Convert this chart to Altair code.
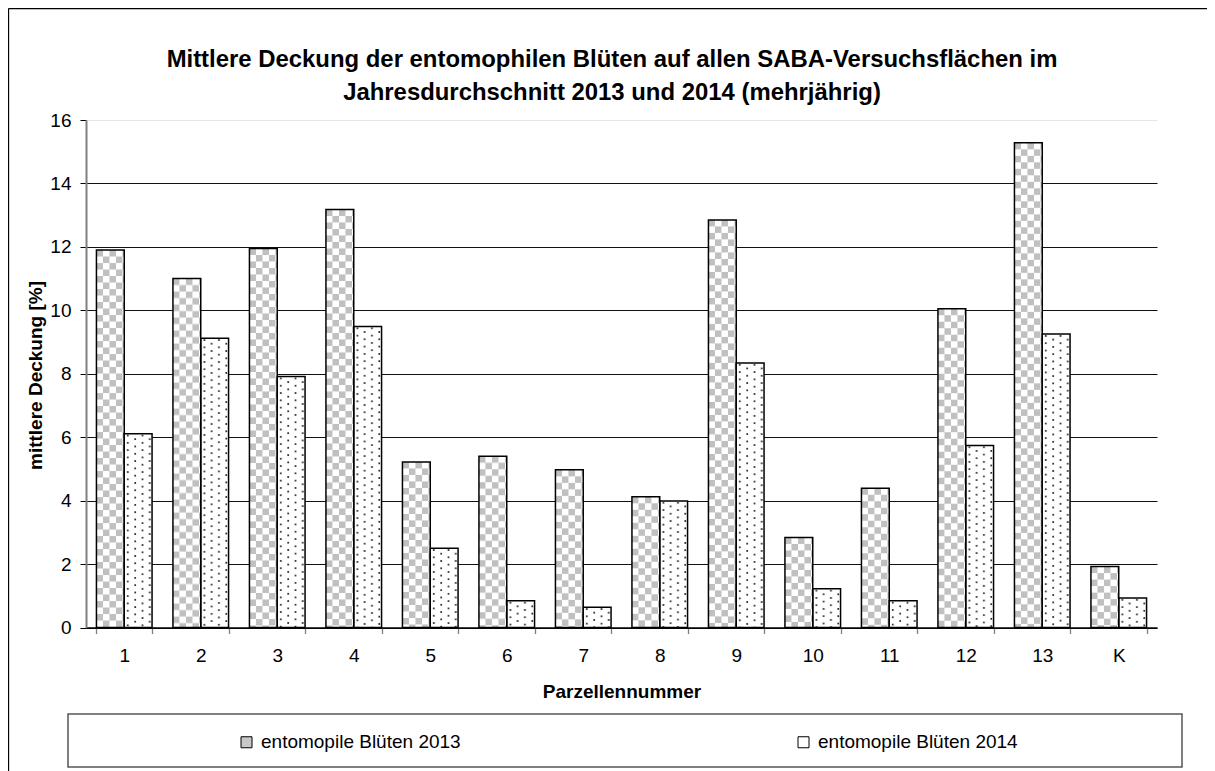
import base64
import altair as alt
import pandas as pd

# ---------------- data ----------------
categories = ["1", "2", "3", "4", "5", "6", "7", "8", "9", "10", "11", "12", "13", "K"]
series_names = ["entomopile Blüten 2013", "entomopile Blüten 2014"]
values_2013 = [11.90, 11.00, 11.95, 13.18, 5.22, 5.40, 4.97, 4.12, 12.85, 2.84, 4.39, 10.05, 15.28, 1.92]
values_2014 = [6.11, 9.12, 7.91, 9.49, 2.50, 0.84, 0.64, 3.99, 8.34, 1.22, 0.84, 5.74, 9.25, 0.93]
y_ticks = [0, 2, 4, 6, 8, 10, 12, 14, 16]
title_lines = [
    "Mittlere Deckung der entomophilen Blüten auf allen SABA-Versuchsflächen im",
    "Jahresdurchschnitt 2013 und 2014 (mehrjährig)",
]
x_title = "Parzellennummer"
y_title = "mittlere Deckung [%]"

rows = []
for c, a, b in zip(categories, values_2013, values_2014):
    rows.append({"Parzelle": c, "Serie": series_names[0], "Deckung": a})
    rows.append({"Parzelle": c, "Serie": series_names[1], "Deckung": b})
df = pd.DataFrame(rows)

FONT = "Liberation Sans, Arial, sans-serif"

# ---------------- fill patterns (Excel-like hatching) ----------------
checker_svg = (
    '<svg xmlns="http://www.w3.org/2000/svg" width="100%" height="100%">'
    '<defs><pattern id="p" x="0" y="0" width="13" height="13" patternUnits="userSpaceOnUse">'
    '<rect width="13" height="13" fill="#ffffff"/>'
    '<rect width="6.5" height="6.5" fill="#c0c0c0"/>'
    '<rect x="6.5" y="6.5" width="6.5" height="6.5" fill="#c0c0c0"/>'
    '</pattern></defs><rect width="100%" height="100%" fill="url(#p)"/></svg>'
)
dots_svg = (
    '<svg xmlns="http://www.w3.org/2000/svg" width="100%" height="100%">'
    '<defs><pattern id="d" x="0" y="0" width="14.6" height="7.3" patternUnits="userSpaceOnUse">'
    '<rect width="14.6" height="7.3" fill="#ffffff"/>'
    '<circle cx="3.6" cy="1.8" r="1.0" fill="#111111"/>'
    '<circle cx="10.9" cy="5.5" r="1.0" fill="#111111"/>'
    '</pattern></defs><rect width="100%" height="100%" fill="url(#d)"/></svg>'
)


def to_uri(svg):
    return "data:image/svg+xml;base64," + base64.b64encode(svg.encode("utf-8")).decode("ascii")


uri_checker = to_uri(checker_svg)
uri_dots = to_uri(dots_svg)

# ---------------- encodings ----------------
x_enc = alt.X(
    "Parzelle:N",
    sort=categories,
    scale=alt.Scale(paddingInner=0.273, paddingOuter=0.1365),
    axis=alt.Axis(
        title=x_title,
        titleFont=FONT,
        titleFontSize=19,
        titleFontWeight="bold",
        titleColor="black",
        titleBaseline="alphabetic",
        titleY=69.5,
        labelAngle=0,
        labelFont=FONT,
        labelFontSize=19,
        labelColor="black",
        labelBaseline="alphabetic",
        labelPadding=27.5,
        tickBand="extent",
        tickSize=6,
        tickColor="#808080",
        tickWidth=1.3,
        domainColor="black",
        domainWidth=1.3,
        grid=False,
    ),
)
xoff_enc = alt.XOffset("Serie:N", sort=series_names)
y_enc = alt.Y(
    "Deckung:Q",
    scale=alt.Scale(domain=[0, 16], nice=False),
    axis=alt.Axis(
        values=y_ticks,
        format="d",
        title=y_title,
        titleFont=FONT,
        titleFontSize=19,
        titleFontWeight="bold",
        titleColor="black",
        titleAngle=270,
        titleAlign="center",
        titleBaseline="middle",
        titleX=-51,
        titleY=255,
        labelFont=FONT,
        labelFontSize=19,
        labelColor="black",
        labelPadding=9,
        tickSize=6,
        tickColor="black",
        tickWidth=1,
        domainColor="#808080",
        domainWidth=2,
        grid=True,
        gridColor={"condition": {"test": "datum.value === 16", "value": "#e6e6e6"}, "value": "#111111"},
        gridWidth=1,
    ),
)

# ---------------- decoration frames ----------------
deco = alt.Data(values=[{"k": 1}])
frame_top = alt.Chart(deco).mark_rule(color="black", strokeWidth=1.3).encode(
    x=alt.value(-77.5), x2=alt.value(1121), y=alt.value(-111.5)
)
frame_left = alt.Chart(deco).mark_rule(color="black", strokeWidth=1.3).encode(
    x=alt.value(-77.5), y=alt.value(-111.5), y2=alt.value(651.5)
)
legend_box = alt.Chart(deco).mark_rect(fill="transparent", stroke="#555555", strokeWidth=1.5).encode(
    x=alt.value(-18), x2=alt.value(1096), y=alt.value(594), y2=alt.value(647)
)

# ---------------- bars ----------------
base_bars = alt.Chart(df).mark_bar(strokeWidth=0).encode(
    x=x_enc,
    xOffset=xoff_enc,
    y=y_enc,
    color=alt.Color(
        "Serie:N",
        sort=series_names,
        scale=alt.Scale(domain=series_names, range=["#c8c8c8", "#ffffff"]),
        legend=alt.Legend(
            title=None,
            orient="none",
            legendX=151,
            legendY=612.5,
            direction="horizontal",
            columns=2,
            columnPadding=333,
            symbolType="square",
            symbolSize=121,
            symbolStrokeColor="black",
            symbolStrokeWidth=1,
            symbolOpacity=1,
            labelFont=FONT,
            labelFontSize=19,
            labelColor="black",
            labelOffset=5,
            labelLimit=400,
            padding=0,
        ),
    ),
)

pattern_bars = (
    alt.Chart(df)
    .transform_calculate(
        url=f"datum.Serie === '{series_names[0]}' ? '{uri_checker}' : '{uri_dots}'"
    )
    .mark_image(aspect=False)
    .encode(x=x_enc, xOffset=xoff_enc, y=y_enc, y2=alt.datum(0), url="url:N")
)

outline_bars = alt.Chart(df).mark_bar(fill="transparent", stroke="black", strokeWidth=1.5).encode(
    x=x_enc, xOffset=xoff_enc, y=y_enc
)

chart = (
    alt.layer(frame_top, frame_left, legend_box, base_bars, pattern_bars, outline_bars)
    .properties(
        width=1071,
        height=507.5,
        autosize=alt.AutoSizeParams(type="none"),
        padding={"left": 78, "top": 112, "right": 50, "bottom": 143.5},
        title=alt.TitleParams(
            text=title_lines,
            font=FONT,
            fontSize=23.9,
            fontWeight="bold",
            color="black",
            anchor="middle",
            frame="group",
            dx=-9.5,
            offset=-97,
            lineHeight=33,
        ),
        background="white",
    )
    .configure_view(stroke="transparent")
)

chart.save("out.html", embed_options={"renderer": "svg", "actions": False})
